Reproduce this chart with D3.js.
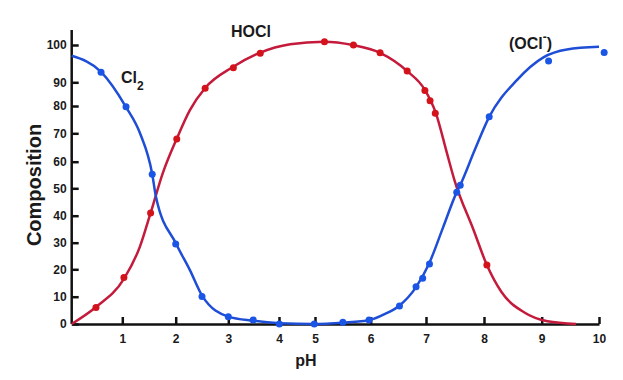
<!DOCTYPE html>
<html>
<head>
<meta charset="utf-8">
<script src="https://cdn.jsdelivr.net/npm/d3@7"></script>
<style>
  body { margin: 0; background: #fff; }
  text { font-family: "Liberation Sans", Arial, sans-serif; font-weight: bold; fill: #1a1a1a; }
</style>
</head>
<body>
<script>
// tick values of the (hand drawn, uneven) axes
const phTicks = [0, 1, 2, 3, 4, 5, 6, 7, 8, 9, 10];
const pctTicks = [0, 10, 20, 30, 40, 50, 60, 70, 80, 90, 100];

// measured points [pH, %]
const hoclPoints = [[0.48, 6], [1.03, 17], [1.53, 41], [2.02, 68], [2.56, 87.5], [3.1, 93.9],
  [3.63, 97.8], [5.17, 100.9], [5.69, 100], [6.17, 97.9], [6.66, 93], [6.98, 86.5],
  [7.07, 82.2], [7.16, 77.3], [8.05, 21.6]];
const clPoints = [[0.58, 92.7], [1.07, 79.7], [1.56, 55.3], [2.0, 29.5], [2.5, 10.1],
  [3.0, 2.7], [3.49, 1.5], [4.01, 0], [4.98, 0]];
const oclPoints = [[5.5, 0.6], [5.97, 1.5], [6.52, 6.6], [6.82, 13.6], [6.94, 16.7],
  [7.06, 22], [7.53, 48.6], [7.59, 51.1], [8.09, 76.1], [9.12, 95.7], [10.09, 98]];

// fitted curves [pH, %]
const hoclCurve = [[0, 0], [0.48, 6.2], [1.03, 16.5], [1.33, 28.5], [1.53, 41], [1.76, 55.8],
  [2.02, 68.1], [2.27, 78.5], [2.56, 87.6], [3.09, 94.1], [3.62, 97.9], [4.31, 100.2],
  [5.16, 100.9], [5.68, 100], [6.17, 97.9], [6.66, 93], [6.98, 86.8], [7.17, 77.4],
  [7.36, 63.1], [7.49, 53.1], [7.82, 34.7], [8.05, 21.6], [8.3, 11.8], [8.7, 4.2],
  [9.1, 1], [9.6, 0]];
const blueCurve = [[0, 97.1], [0.58, 92.8], [1.07, 79.6], [1.33, 70.1], [1.56, 55.4],
  [1.63, 46.9], [2.01, 29.5], [2.27, 19.7], [2.51, 10.1], [3.0, 2.7], [3.49, 1.2],
  [4.01, 0.3], [4.97, 0], [5.5, 0.5], [5.99, 1.5], [6.26, 3.7], [6.51, 6.6], [6.82, 13.5],
  [7.05, 22], [7.29, 35.4], [7.53, 48.6], [7.59, 51.2], [7.84, 64.1], [8.09, 76],
  [8.57, 90.6], [9.03, 96.7], [9.44, 98.8], [10.0, 99.5]];

const width = 623, height = 380;
const red = "#c41a3b", redDot = "#d3121c";
const blue = "#1f4ed6", blueDot = "#1a55e6";

const svg = d3.select("body").append("svg")
  .attr("width", width)
  .attr("height", height);

// pixel positions of the printed ticks
const x = d3.scaleLinear()
  .domain(phTicks)
  .range([71.7, 122.3, 175.7, 228.3, 279, 315, 370.7, 426, 484, 541.7, 599]);
const y = d3.scaleLinear()
  .domain(pctTicks)
  .range([324, 296.7, 269.3, 242.7, 215.7, 188.3, 161.7, 133.3, 106, 82.3, 45]);

// axes
const xAxis = svg.append("g")
  .attr("transform", `translate(0,${y(0)})`)
  .call(d3.axisBottom(x).tickValues(phTicks.slice(1)).tickSizeInner(-7).tickSizeOuter(0).tickPadding(10));
xAxis.select(".domain").attr("stroke", "#111").attr("stroke-width", 2.5);
xAxis.selectAll(".tick line").attr("stroke", "#111").attr("stroke-width", 2.5);
xAxis.selectAll(".tick text").style("font-size", "12px").attr("fill", "#1a1a1a");

const yAxis = svg.append("g")
  .attr("transform", `translate(${x(0)},0)`)
  .call(d3.axisLeft(y).tickValues(pctTicks).tickSizeInner(-7).tickSizeOuter(0).tickPadding(5));
yAxis.select(".domain").attr("d", `M0,${y(0)}V30`).attr("stroke", "#111").attr("stroke-width", 2.5);
yAxis.selectAll(".tick line").attr("stroke", "#111").attr("stroke-width", 2.5);
yAxis.selectAll(".tick text").style("font-size", "12px").attr("fill", "#1a1a1a");

const line = d3.line()
  .x(d => x(d[0]))
  .y(d => y(d[1]))
  .curve(d3.curveMonotoneX);

svg.append("path")
  .attr("d", line(hoclCurve))
  .attr("fill", "none")
  .attr("stroke", red)
  .attr("stroke-width", 2.5);

svg.append("path")
  .attr("d", line(blueCurve))
  .attr("fill", "none")
  .attr("stroke", blue)
  .attr("stroke-width", 2.5);

svg.append("g")
  .attr("fill", redDot)
  .selectAll("circle")
  .data(hoclPoints)
  .join("circle")
  .attr("cx", d => x(d[0]))
  .attr("cy", d => y(d[1]))
  .attr("r", 3.5);

svg.append("g")
  .attr("fill", blueDot)
  .selectAll("circle")
  .data(clPoints.concat(oclPoints))
  .join("circle")
  .attr("cx", d => x(d[0]))
  .attr("cy", d => y(d[1]))
  .attr("r", 3.5);

// labels
svg.append("text")
  .attr("transform", "translate(41,185) rotate(-90)")
  .attr("text-anchor", "middle")
  .style("font-size", "20px")
  .text("Composition");

svg.append("text")
  .attr("x", 306).attr("y", 366)
  .attr("text-anchor", "middle")
  .style("font-size", "16px")
  .text("pH");

svg.append("text")
  .attr("x", 231).attr("y", 37)
  .style("font-size", "16px")
  .text("HOCl");

const cl2 = svg.append("text")
  .attr("x", 121).attr("y", 83)
  .style("font-size", "16px");
cl2.append("tspan").text("Cl");
cl2.append("tspan").attr("dy", 7).style("font-size", "12px").text("2");

const ocl = svg.append("text")
  .attr("x", 509).attr("y", 49)
  .style("font-size", "16px");
ocl.append("tspan").text("(OCl");
ocl.append("tspan").attr("dy", -8).style("font-size", "12px").text("-");
ocl.append("tspan").attr("dy", 8).text(")");
</script>
</body>
</html>
